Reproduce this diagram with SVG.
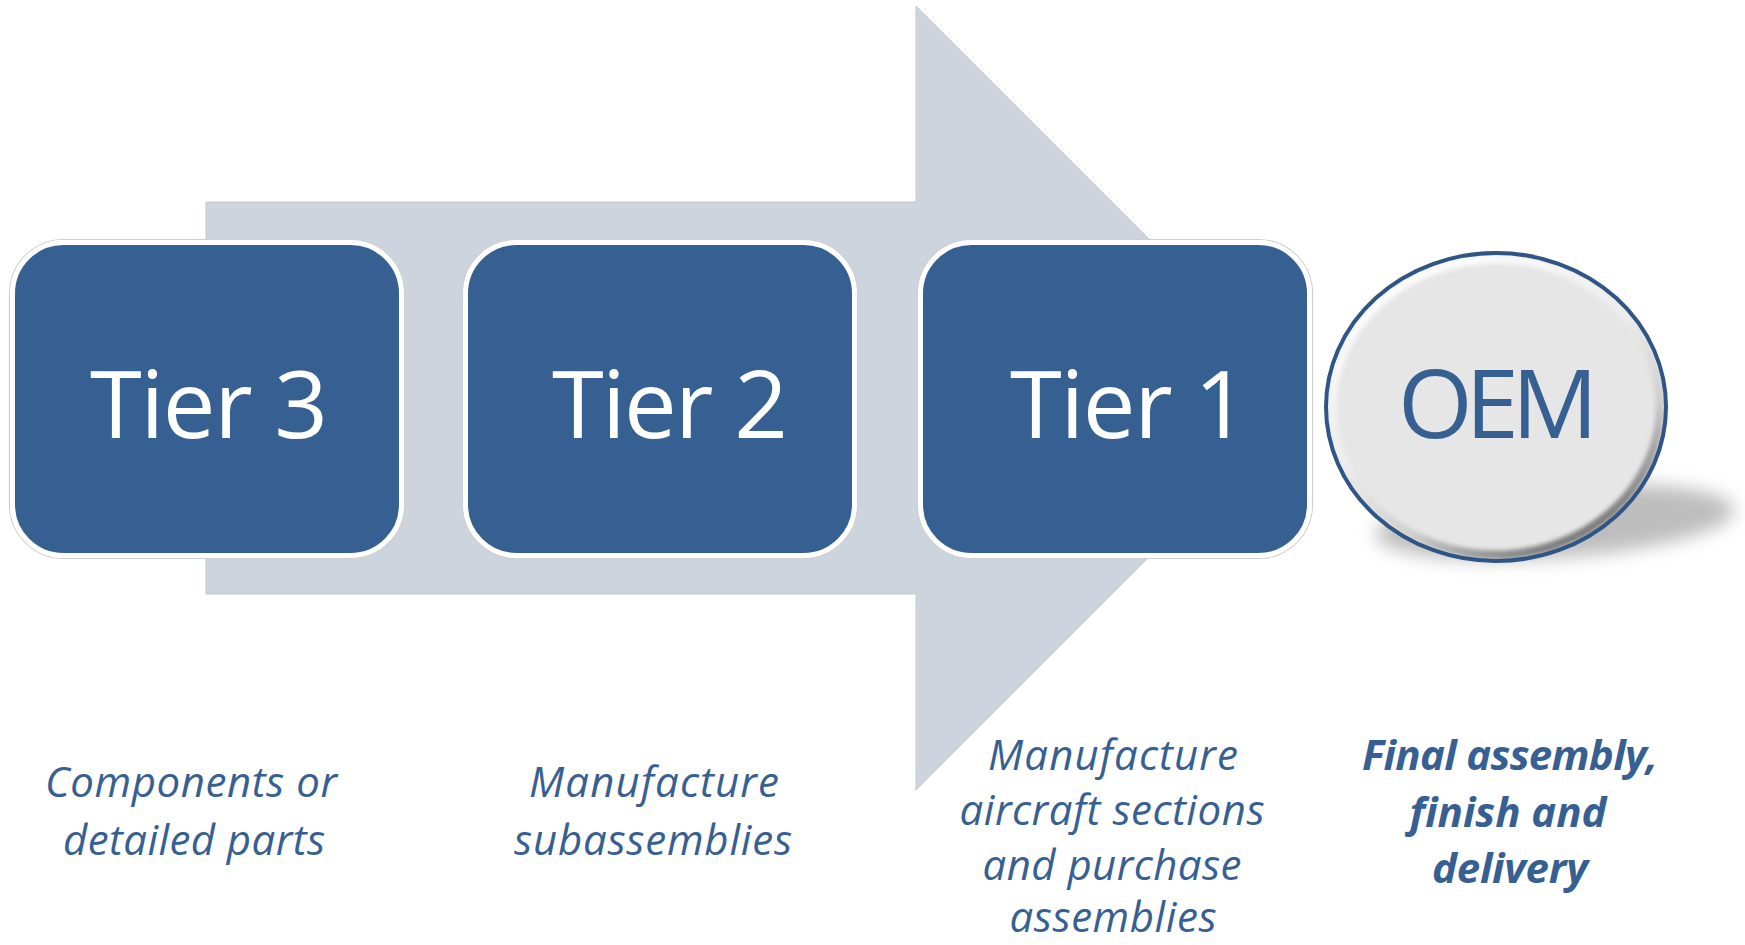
<svg xmlns="http://www.w3.org/2000/svg" width="1745" height="945" viewBox="0 0 1745 945">
  <style>
    .box { fill: #366092; stroke: #ffffff; stroke-width: 5; }
    .halo { fill: none; stroke: #cfcfcf; stroke-width: 1.2; }
    .tier { font-family: "Open Sans", "Noto Sans", "Liberation Sans", sans-serif; font-size: 94px; fill: #ffffff; text-anchor: middle; }
    .oem { font-family: "Open Sans", "Noto Sans", "Liberation Sans", sans-serif; font-size: 96px; fill: #376092; text-anchor: middle; }
    .desc { font-family: "Open Sans", "Noto Sans", "Liberation Sans", sans-serif; font-size: 42px; font-style: italic; fill: #376092; text-anchor: middle; }
    .desc-bold { font-weight: bold; }
  </style>
  <defs>
    <linearGradient id="bevel" x1="0.2" y1="0" x2="0.8" y2="1">
      <stop offset="0" stop-color="#ffffff"/>
      <stop offset="0.45" stop-color="#ececec"/>
      <stop offset="0.7" stop-color="#cfcfcf"/>
      <stop offset="1" stop-color="#626262"/>
    </linearGradient>
    <filter id="soft" x="-20%" y="-50%" width="140%" height="200%">
      <feGaussianBlur stdDeviation="9"/>
    </filter>
    <filter id="bevelBlur" x="-10%" y="-10%" width="120%" height="120%">
      <feGaussianBlur stdDeviation="2"/>
    </filter>
  </defs>

  <rect width="1745" height="945" fill="#ffffff"/>

  <!-- big flow arrow behind the tier boxes -->
  <g id="connectors">
    <polygon points="206,202 916,202 916,6 1308,398 916,790 916,594 206,594"
             fill="#ced4de" stroke="#c3c8d0" stroke-width="1"/>
  </g>

  <g id="tier3">
    <rect class="halo" x="9.5" y="239.5" width="395" height="319" rx="54"/>
    <rect class="box" x="12.5" y="242.5" width="389" height="313" rx="51"/>
    <text class="tier" x="209" y="438" textLength="238">Tier 3</text>
  </g>

  <g id="tier2">
    <rect class="halo" x="462.5" y="239.5" width="395" height="319" rx="54"/>
    <rect class="box" x="465.5" y="242.5" width="389" height="313" rx="51"/>
    <text class="tier" x="670" y="438" textLength="236">Tier 2</text>
  </g>

  <g id="tier1">
    <rect class="halo" x="917.5" y="239.5" width="395" height="319" rx="54"/>
    <rect class="box" x="920.5" y="242.5" width="389" height="313" rx="51"/>
    <text class="tier" x="1129" y="438" textLength="238">Tier 1</text>
  </g>

  <g id="oem">
    <ellipse cx="1555" cy="522" rx="180" ry="36" fill="#a8a8a8" opacity="0.75"
             transform="rotate(-4 1555 522)" filter="url(#soft)"/>
    <ellipse cx="1496" cy="407" rx="170" ry="154" fill="#e6e6e6"/>
    <ellipse cx="1496" cy="407" rx="164" ry="148" fill="none" stroke="url(#bevel)"
             stroke-width="9" filter="url(#bevelBlur)"/>
    <ellipse cx="1496" cy="407" rx="170" ry="154" fill="none" stroke="#2e5584" stroke-width="4"/>
    <text class="oem" x="1498" y="438" textLength="200">OEM</text>
  </g>

  <g id="desc-tier3">
    <text class="desc" x="191" y="797" textLength="292">Components or</text>
    <text class="desc" x="194" y="855" textLength="262">detailed parts</text>
  </g>

  <g id="desc-tier2">
    <text class="desc" x="654" y="797" textLength="250">Manufacture</text>
    <text class="desc" x="653" y="855" textLength="278">subassemblies</text>
  </g>

  <g id="desc-tier1">
    <text class="desc" x="1113" y="770" textLength="250">Manufacture</text>
    <text class="desc" x="1112" y="825" textLength="305">aircraft sections</text>
    <text class="desc" x="1112" y="880" textLength="259">and purchase</text>
    <text class="desc" x="1113" y="932" textLength="207">assemblies</text>
  </g>

  <g id="desc-oem">
    <text class="desc desc-bold" x="1510" y="770" textLength="296">Final assembly,</text>
    <text class="desc desc-bold" x="1508" y="827" textLength="197">finish and</text>
    <text class="desc desc-bold" x="1510" y="883" textLength="156">delivery</text>
  </g>
</svg>
